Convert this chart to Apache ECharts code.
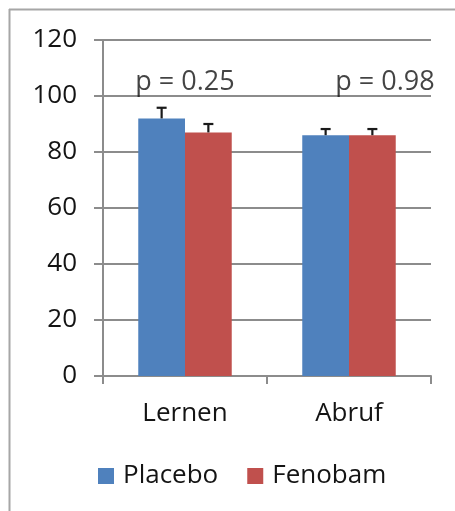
<!DOCTYPE html>
<html>
<head>
<meta charset="utf-8">
<script src="https://cdn.jsdelivr.net/npm/echarts@6/dist/echarts.min.js"></script>
<style>
  html, body { margin: 0; padding: 0; background: #fff; }
  #chart { width: 455px; height: 511px; }
</style>
</head>
<body>
<div id="chart"></div>
<script>
// Task scores per phase, mean with upper standard error
const categories = ['Lernen', 'Abruf'];
const seriesNames = ['Placebo', 'Fenobam'];
const placeboValues = [92, 86];
const fenobamValues = [87, 86];
const placeboErrors = [3.8, 2.2];
const fenobamErrors = [3.0, 2.2];
const pLabels = ['p = 0.25', 'p = 0.98'];
const pLabelY = [105, 105];
const yTicks = { min: 0, max: 120, interval: 20 };

const FONT = 'Open Sans';
const TEXT = '#141414';
const GRID = '#8c8c8c';
const BLUE = '#4f81bd';
const RED = '#c0504d';
const GAP = 0.43;

function errorSeries(name, values, errors, sign) {
  return {
    type: 'custom',
    name: name + ' SE',
    z: 5,
    silent: true,
    data: values.map((v, i) => [i, v, v + errors[i]]),
    encode: { x: 0, y: [1, 2] },
    renderItem: function (params, api) {
      const band = api.size([1, 0])[0];
      const barW = band * (1 - GAP) / 2;
      const base = api.coord([api.value(0), api.value(1)]);
      const top = api.coord([api.value(0), api.value(2)]);
      const x = base[0] + sign * barW / 2;
      const cap = 5;
      const style = { stroke: '#1a1a1a', lineWidth: 2.2 };
      return {
        type: 'group',
        children: [
          { type: 'line', shape: { x1: x, y1: base[1], x2: x, y2: top[1] }, style: style },
          { type: 'line', shape: { x1: x - cap, y1: top[1], x2: x + cap, y2: top[1] }, style: style }
        ]
      };
    }
  };
}

const chart = echarts.init(document.getElementById('chart'));
chart.setOption({
  animation: false,
  backgroundColor: '#fff',
  textStyle: { fontFamily: FONT, color: TEXT },
  graphic: [
    { type: 'line', shape: { x1: 9, y1: 9.5, x2: 455, y2: 9.5 }, style: { stroke: '#a6a6a6', lineWidth: 2 } },
    { type: 'line', shape: { x1: 9.5, y1: 9, x2: 9.5, y2: 511 }, style: { stroke: '#a6a6a6', lineWidth: 2 } }
  ],
  grid: { left: 103, top: 40, right: 24, bottom: 135, containLabel: false },
  legend: {
    data: seriesNames,
    left: 93,
    top: 458,
    itemWidth: 16,
    itemHeight: 16,
    itemGap: 29,
    icon: 'rect',
    textStyle: { fontFamily: FONT, fontSize: 26, color: TEXT, padding: [0, 0, 0, 4] }
  },
  xAxis: {
    type: 'category',
    data: categories,
    axisLine: { lineStyle: { color: GRID, width: 2 } },
    axisTick: { show: true, length: 8, lineStyle: { color: GRID, width: 2 } },
    axisLabel: { fontFamily: FONT, fontSize: 26, color: TEXT, margin: 25 }
  },
  yAxis: {
    type: 'value',
    min: yTicks.min,
    max: yTicks.max,
    interval: yTicks.interval,
    axisLine: { show: true, lineStyle: { color: GRID, width: 2 } },
    axisTick: { show: true, length: 9, lineStyle: { color: GRID, width: 2 } },
    splitLine: { lineStyle: { color: GRID, width: 2 } },
    axisLabel: { fontFamily: FONT, fontSize: 26, color: TEXT, margin: 26 }
  },
  series: [
    {
      name: seriesNames[0],
      type: 'bar',
      data: placeboValues,
      barGap: '0%',
      barCategoryGap: (GAP * 100) + '%',
      itemStyle: { color: BLUE }
    },
    {
      name: seriesNames[1],
      type: 'bar',
      data: fenobamValues,
      itemStyle: { color: RED }
    },
    errorSeries(seriesNames[0], placeboValues, placeboErrors, -1),
    errorSeries(seriesNames[1], fenobamValues, fenobamErrors, 1),
    {
      type: 'scatter',
      name: 'p',
      silent: true,
      symbolSize: 0,
      z: 6,
      data: pLabels.map((t, i) => ({ value: [i, pLabelY[i]], name: t })),
      label: {
        show: true,
        position: 'inside',
        formatter: (p) => p.name,
        fontFamily: FONT,
        fontSize: 27,
        color: TEXT
      },
      labelLayout: function (params) {
        return params.dataIndex === 1 ? { dx: 36 } : {};
      }
    }
  ]
});
</script>
</body>
</html>
